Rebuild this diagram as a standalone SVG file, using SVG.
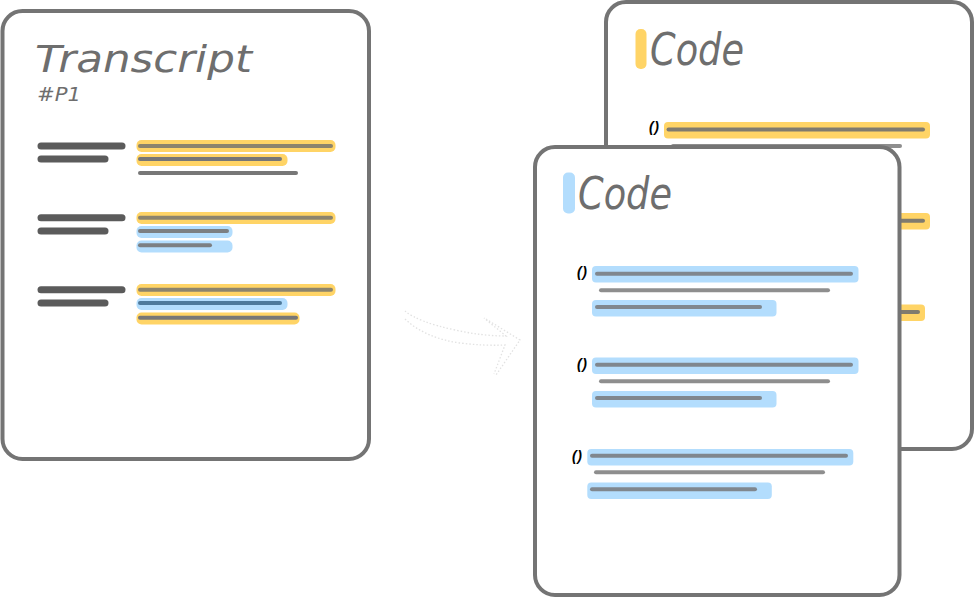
<svg xmlns="http://www.w3.org/2000/svg" width="976" height="598" viewBox="0 0 976 598">
<style>
.page{fill:#ffffff;stroke:#747474;stroke-width:4}
.title{font-family:"DejaVu Sans",sans-serif;font-weight:200;font-style:oblique;fill:#6e6e6e}
.dk{stroke:#5b5b5b;stroke-width:7;stroke-linecap:round}
.ln{stroke-width:4;stroke-linecap:round;fill:none}
.y{fill:#ffd466}
.b{fill:#b3ddfd}
.par{font-family:"Liberation Sans",sans-serif;font-weight:bold;font-style:italic;font-size:14px;letter-spacing:0.5px;fill:#000}
</style>
<rect width="976" height="598" fill="#ffffff"/>
<g id="transcript">
<rect class="page" x="2.5" y="11" width="366.5" height="448" rx="20"/>
<text class="title" x="35" y="72" font-size="38" textLength="217" lengthAdjust="spacingAndGlyphs">Transcript</text>
<text class="title" x="37" y="101" font-size="20" textLength="44" lengthAdjust="spacingAndGlyphs">#P1</text>
<line class="dk" x1="41" y1="146" x2="122" y2="146"/>
<line class="dk" x1="41" y1="159" x2="105" y2="159"/>
<rect class="y" x="136.5" y="140" width="199" height="12" rx="5"/>
<line class="ln" x1="140" y1="146" x2="331" y2="146" stroke="#8c846d"/>
<rect class="y" x="136.5" y="154" width="151" height="12" rx="5"/>
<line class="ln" x1="140" y1="159" x2="280" y2="159" stroke="#777"/>
<line class="ln" x1="140" y1="173" x2="296" y2="173" stroke="#777"/>
<line class="dk" x1="41" y1="217.7" x2="122" y2="217.7"/>
<line class="dk" x1="41" y1="231" x2="105" y2="231"/>
<rect class="y" x="136.5" y="212" width="199" height="12" rx="5"/>
<line class="ln" x1="140" y1="217.7" x2="331" y2="217.7" stroke="#8c846d"/>
<rect class="b" x="136.5" y="226" width="96" height="12" rx="5"/>
<line class="ln" x1="140" y1="231" x2="227" y2="231" stroke="#7c7f82"/>
<rect class="b" x="136.5" y="240.5" width="96" height="12" rx="5"/>
<line class="ln" x1="140" y1="245.3" x2="210" y2="245.3" stroke="#7c7f82"/>
<line class="dk" x1="41" y1="289.7" x2="122" y2="289.7"/>
<line class="dk" x1="41" y1="303" x2="105" y2="303"/>
<rect class="y" x="136.5" y="284" width="199" height="12" rx="5"/>
<line class="ln" x1="140" y1="289.7" x2="331" y2="289.7" stroke="#8c846d"/>
<rect class="b" x="136.5" y="298" width="151" height="12" rx="5"/>
<line class="ln" x1="140" y1="303" x2="280" y2="303" stroke="#4e7a9c"/>
<rect class="y" x="136.5" y="312.5" width="163" height="12" rx="5"/>
<line class="ln" x1="140" y1="317.7" x2="296" y2="317.7" stroke="#777"/>
</g>
<g id="connectors">
<path d="M405,311 Q418,322 455,330 Q482,336 506,336 L484,318 M405,319 Q425,338 460,343 Q485,346 505,345 L494,374 M486,319 L520,340 L496,375" fill="none" stroke="#e2e2e2" stroke-width="1.3" stroke-dasharray="1.5 2"/>
</g>
<g id="code-back">
<rect class="page" x="606" y="2" width="366" height="447" rx="20"/>
<rect class="y" x="635.5" y="29" width="11" height="40" rx="5"/>
<text class="title" x="650" y="65" font-size="44" textLength="94" lengthAdjust="spacingAndGlyphs">Code</text>
<text class="par" x="649" y="132">()</text>
<rect class="y" x="664" y="122" width="266" height="16.5" rx="4"/>
<line class="ln" x1="668.5" y1="129.5" x2="923" y2="129.5" stroke="#807b6e"/>
<line class="ln" x1="673" y1="146" x2="900" y2="146" stroke="#8e8e8e"/>
<rect class="y" x="664" y="213" width="266" height="16.5" rx="4"/>
<line class="ln" x1="668.5" y1="220.7" x2="923" y2="220.7" stroke="#807b6e"/>
<rect class="y" x="659" y="304.5" width="266" height="16.5" rx="4"/>
<line class="ln" x1="663.5" y1="312" x2="918" y2="312" stroke="#807b6e"/>
</g>
<g id="code-front">
<rect class="page" x="535" y="147" width="364.5" height="448" rx="20"/>
<rect class="b" x="563" y="172.5" width="12" height="41" rx="5"/>
<text class="title" x="578" y="209" font-size="44" textLength="94" lengthAdjust="spacingAndGlyphs">Code</text>
<text class="par" x="577" y="277">()</text>
<rect class="b" x="592" y="266" width="266.5" height="16.5" rx="4"/>
<line class="ln" x1="597" y1="273.7" x2="851" y2="273.7" stroke="#80878e"/>
<line class="ln" x1="601" y1="290.3" x2="828" y2="290.3" stroke="#8e8e8e"/>
<rect class="b" x="592" y="300" width="184.5" height="16.5" rx="4"/>
<line class="ln" x1="597" y1="307" x2="760" y2="307" stroke="#80878e"/>
<text class="par" x="577" y="369">()</text>
<rect class="b" x="592" y="357.5" width="266.5" height="16.5" rx="4"/>
<line class="ln" x1="597" y1="364.7" x2="851" y2="364.7" stroke="#80878e"/>
<line class="ln" x1="601" y1="381.3" x2="828" y2="381.3" stroke="#8e8e8e"/>
<rect class="b" x="592" y="391" width="184.5" height="16.5" rx="4"/>
<line class="ln" x1="597" y1="398" x2="760" y2="398" stroke="#80878e"/>
<text class="par" x="572" y="460.5">()</text>
<rect class="b" x="587.3" y="449" width="266" height="16.5" rx="4"/>
<line class="ln" x1="592" y1="455.7" x2="846" y2="455.7" stroke="#80878e"/>
<line class="ln" x1="596" y1="472.3" x2="823" y2="472.3" stroke="#8e8e8e"/>
<rect class="b" x="587.3" y="482.5" width="184.5" height="16.5" rx="4"/>
<line class="ln" x1="592" y1="489.3" x2="755" y2="489.3" stroke="#80878e"/>
</g>
</svg>
